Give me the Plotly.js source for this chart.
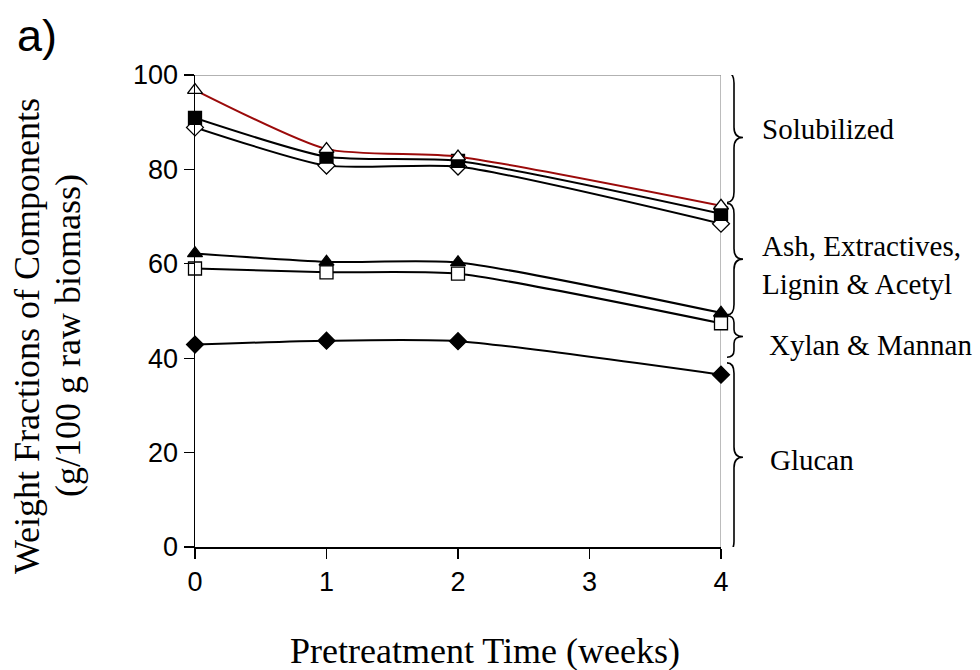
<!DOCTYPE html>
<html>
<head>
<meta charset="utf-8">
<script src="https://cdn.plot.ly/plotly-3.0.1.min.js"></script>
<style>html,body{margin:0;padding:0;background:#fff;}#chart{width:980px;height:670px;}</style>
</head>
<body>
<div id="chart"></div>
<script>
// ---- data ----
const weeks = [0, 1, 2, 4];
const totalOpenTri   = [96.8, 84.3, 82.7, 72.3];   // red line, open triangles
const filledSquare   = [90.9, 82.7, 81.8, 70.6];
const openDiamond    = [88.9, 80.8, 80.6, 68.5];
const filledTriangle = [62.2, 60.4, 60.3, 49.6];
const openSquare     = [59.0, 58.2, 57.9, 47.4];
const filledDiamond  = [42.9, 43.7, 43.6, 36.5];

const xTicks = [0, 1, 2, 3, 4];
const yTicks = [0, 20, 40, 60, 80, 100];

// brace groups on the right (top, bottom in y-units) and labels
const groupLabels = ["Solubilized", "Ash, Extractives,<br>Lignin & Acetyl", "Xylan & Mannan", "Glucan"];
const braceTop    = [100.5, 72.8, 49.0, 39.0];
const braceBottom = [73.0, 49.2, 40.2, -1.0];
const labelY      = [88.6, 59.8, 42.7, 18.4];

const yTitleLines = ["Weight Fractions of Components", "(g/100 g raw biomass)"];
const xTitle = "Pretreatment Time (weeks)";

// ---- traces ----
function tr(y, symbol, color, lineColor) {
  return {
    x: weeks, y: y, type: 'scatter', mode: 'lines+markers',
    line: {color: lineColor || '#000', width: 2, shape: 'spline', smoothing: 0.6},
    marker: {symbol: symbol, size: 13, color: color, line: {color: '#000', width: 1.3}},
    cliponaxis: false, showlegend: false, hoverinfo: 'x+y'
  };
}
const traces = [
  tr(filledDiamond, 'diamond', '#000'),
  tr(openSquare, 'square', '#fff'),
  tr(filledTriangle, 'triangle-up', '#000'),
  tr(openDiamond, 'diamond', '#fff'),
  tr(filledSquare, 'square', '#000'),
  tr(totalOpenTri, 'triangle-up', '#fff', '#9b0a0a')
];

// ---- braces ----
const plotL = 195, plotR = 721, plotW = plotR - plotL;
const plotT = 75, plotB = 547, plotH = plotB - plotT;
const px = p => (p - plotL) / plotW;   // pixel -> paper x
const py = p => (plotB - p) / plotH;   // pixel -> paper y
const bx0 = px(727), bx1 = px(734), bxT = px(743);
const shapes = [];
for (let i = 0; i < groupLabels.length; i++) {
  const t = braceTop[i], b = braceBottom[i], m = (t + b) / 2;
  const r = Math.min(2.2, (t - b) / 6);
  const path = `M ${bx0},${t} Q ${bx1},${t} ${bx1},${t - r} L ${bx1},${m + r} Q ${bx1},${m} ${bxT},${m} Q ${bx1},${m} ${bx1},${m - r} L ${bx1},${b + r} Q ${bx1},${b} ${bx0},${b}`;
  shapes.push({type: 'path', xref: 'paper', yref: 'y', path: path, line: {color: '#000', width: 1.6}});
}
// top and right frame lines (grey)
shapes.push({type: 'line', xref: 'paper', yref: 'y', x0: 0, x1: 1, y0: 100, y1: 100, line: {color: '#999', width: 1.3}, layer: 'below'});
shapes.push({type: 'line', xref: 'x', yref: 'paper', x0: 4, x1: 4, y0: 0, y1: 1, line: {color: '#999', width: 1.3}, layer: 'below'});

const serif = 'Liberation Serif, Times New Roman, serif';
const labelXpx = [760, 760, 767, 768];
const annotations = groupLabels.map((t, i) => ({
  text: t, xref: 'paper', yref: 'y', x: px(labelXpx[i]), y: labelY[i], xanchor: 'left', yanchor: 'middle',
  align: 'left', showarrow: false, font: {family: serif, size: 29, color: '#000'}
}));
annotations.push({text: 'a)', xref: 'paper', yref: 'paper', x: px(15), y: py(35), xanchor: 'left', yanchor: 'middle',
  showarrow: false, font: {family: 'Liberation Sans, Arial, sans-serif', size: 45, color: '#000'}});
const yTitleX = [27, 68];
yTitleLines.forEach((t, i) => annotations.push({text: t, xref: 'paper', yref: 'paper',
  x: px(yTitleX[i]), y: py(336), xanchor: 'center', yanchor: 'middle', textangle: -90, showarrow: false,
  font: {family: serif, size: 36, color: '#000'}}));
annotations.push({text: xTitle, xref: 'paper', yref: 'paper',
  x: px(485), y: py(651), xanchor: 'center', yanchor: 'middle', showarrow: false,
  font: {family: serif, size: 36, color: '#000'}});

const tickFont = {family: 'Liberation Sans, Arial, sans-serif', size: 27, color: '#000'};
const layout = {
  width: 980, height: 670,
  margin: {l: plotL, r: 980 - plotR, t: plotT, b: 670 - plotB, pad: 0},
  paper_bgcolor: '#fff', plot_bgcolor: '#fff',
  xaxis: {range: [0, 4], tickvals: xTicks, ticktext: xTicks.map(String), showgrid: false, zeroline: false,
    showline: true, linecolor: '#000', linewidth: 1.5, ticks: 'outside', ticklen: 10, tickwidth: 1.3, tickcolor: '#000',
    tickfont: tickFont, fixedrange: true},
  yaxis: {range: [0, 100], tickvals: yTicks, ticktext: yTicks.map(String), showgrid: false, zeroline: false,
    showline: true, linecolor: '#000', linewidth: 1.5, ticks: 'outside', ticklen: 10, tickwidth: 1.3, tickcolor: '#000',
    tickfont: tickFont, fixedrange: true},
  shapes: shapes, annotations: annotations, showlegend: false
};
Plotly.newPlot('chart', traces, layout, {displayModeBar: false, staticPlot: true});
</script>
</body>
</html>
